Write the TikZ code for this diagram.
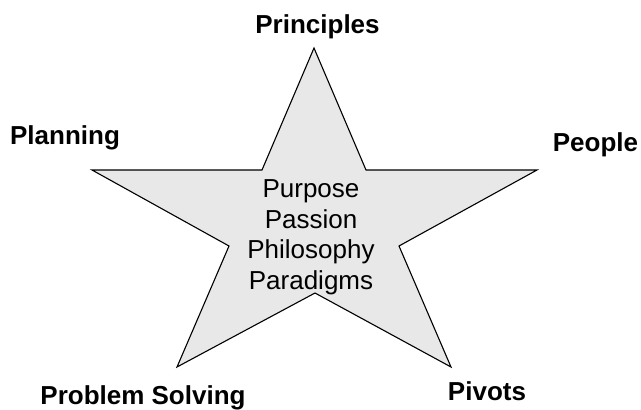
\documentclass[tikz,border=0pt]{standalone}
\usepackage{fontspec}
\setmainfont{Liberation Sans}
\definecolor{starfill}{RGB}{232,232,232}
\tikzset{
  label/.style={font=\fontsize{26}{30.5}\selectfont\bfseries, anchor=base, inner sep=0pt},
  core/.style={font=\fontsize{26}{30.5}\selectfont, align=center, anchor=north, inner sep=0pt}
}
\begin{document}
\begin{tikzpicture}
  \useasboundingbox (0pt,0pt) rectangle (641pt,-410pt);

  \draw[fill=starfill, line width=1.1pt, line join=miter]
  (314pt,-48pt) -- (366pt,-170pt) -- (537pt,-170pt) -- (399pt,-246pt)
  -- (451pt,-367pt) -- (315pt,-293pt) -- (177pt,-367pt) -- (229pt,-246pt)
  -- (92pt,-170pt) -- (262pt,-170pt) -- cycle;

  \node[core] (center) at (311pt,-179.5pt)
  {Purpose\\Passion\\Philosophy\\Paradigms};

  \node[label] (principles) at (317.5pt,-33pt) {Principles};
  \node[label] (planning) at (65pt,-144.3pt) {Planning};
  \node[label] (people) at (595.5pt,-151.7pt) {People};
  \node[label] (problem) at (143pt,-404.3pt) {Problem Solving};
  \node[label] (pivots) at (487pt,-400.7pt) {Pivots};
\end{tikzpicture}
\end{document}
